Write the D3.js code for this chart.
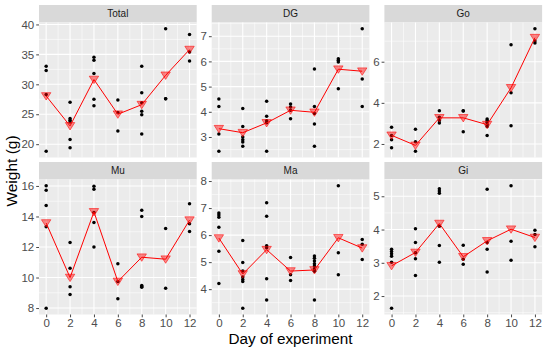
<!DOCTYPE html>
<html>
<head>
<meta charset="utf-8">
<script src="https://cdn.jsdelivr.net/npm/d3@7"></script>
<style>
  html, body { margin: 0; padding: 0; background: #fff; }
  svg text { font-family: "Liberation Sans", Arial, sans-serif; }
</style>
</head>
<body>
<div id="chart"></div>
<script>
/* ---------- data ---------- */
const days = [0, 2, 4, 6, 8, 10, 12];
const facets = ["Total", "DG", "Go", "Mu", "Ma", "Gi"];

// raw points per day, one inner array per day
const ptsTotal = [
  [33.0, 32.3, 28.3, 18.8],
  [27.0, 24.3, 24.0, 23.7, 20.8, 19.4],
  [34.5, 34.0, 31.8, 27.5, 26.4],
  [27.4, 25.3, 22.2],
  [33.0, 28.6, 26.9, 25.5, 24.9, 21.7],
  [39.3, 27.6, 27.6],
  [38.3, 35.4, 33.9]
];
const ptsDG = [
  [4.51, 4.21, 3.12, 2.43],
  [4.13, 3.42, 3.0, 2.89, 2.8, 2.63],
  [4.42, 3.82, 3.64, 3.57, 2.43],
  [4.31, 4.19, 4.06, 3.72],
  [5.7, 4.21, 3.93, 3.52, 2.63],
  [6.11, 6.05, 5.98, 4.91],
  [7.3, 5.3, 4.21]
];
const ptsGo = [
  [2.81, 2.41, 2.2, 1.82],
  [2.72, 2.11, 1.64],
  [3.61, 3.3, 3.14, 3.02],
  [3.61, 3.6, 2.6],
  [3.22, 3.14, 3.06, 2.94, 2.85, 2.41],
  [6.83, 4.49, 2.89],
  [7.61, 7.01, 6.91]
];
const ptsMu = [
  [16.02, 15.72, 14.72, 13.33, 7.98],
  [12.3, 10.6, 9.39, 8.89],
  [15.98, 15.78, 14.26, 13.61, 12.0],
  [10.91, 9.74, 8.61],
  [14.41, 14.0, 9.48, 9.42, 9.37],
  [13.22, 9.3],
  [14.83, 13.52, 13.02]
];
const ptsMa = [
  [6.82, 6.74, 6.66, 6.29, 5.4, 4.21],
  [5.8, 4.99, 4.67, 4.45, 4.36, 4.28, 3.29],
  [7.2, 6.7, 5.61, 5.53, 4.39, 3.6],
  [5.17, 4.53, 4.32],
  [5.23, 5.14, 5.04, 4.94, 4.86, 4.76, 4.66, 3.6],
  [7.83, 5.35, 4.53],
  [5.84, 5.66, 5.1]
];
const ptsGi = [
  [3.41, 3.34, 3.27, 3.2, 3.02, 1.63],
  [4.02, 3.61, 3.3, 3.12, 2.62],
  [5.23, 5.16, 5.09, 4.1, 3.52, 3.02],
  [3.53, 3.11, 2.96],
  [5.21, 3.61, 3.41, 2.72],
  [5.32, 3.65, 3.08],
  [3.98, 3.85, 3.48]
];

// mean per day (red triangles)
const meanTotal = [28.05, 23.05, 30.8, 25.0, 26.6, 31.5, 35.8];
const meanDG    = [3.33, 3.17, 3.56, 4.06, 3.98, 5.69, 5.61];
const meanGo    = [2.42, 1.93, 3.27, 3.27, 2.94, 4.73, 7.17];
const meanMu    = [13.57, 10.0, 14.3, 9.74, 11.33, 11.2, 13.76];
const meanMa    = [5.89, 4.56, 5.46, 4.67, 4.71, 5.9, 5.52];
const meanGi    = [2.91, 3.31, 4.18, 3.18, 3.66, 4.01, 3.76];

// y tick labels per facet
const ticksTotal = [20, 25, 30, 35, 40];
const ticksDG    = [3, 4, 5, 6, 7];
const ticksGo    = [2, 4, 6];
const ticksMu    = [8, 10, 12, 14, 16];
const ticksMa    = [4, 5, 6, 7, 8];
const ticksGi    = [2, 3, 4, 5];

const xTicks = [0, 2, 4, 6, 8, 10, 12];

const panels = [
  { name: facets[0], pts: ptsTotal, mean: meanTotal, ticks: ticksTotal },
  { name: facets[1], pts: ptsDG,    mean: meanDG,    ticks: ticksDG },
  { name: facets[2], pts: ptsGo,    mean: meanGo,    ticks: ticksGo },
  { name: facets[3], pts: ptsMu,    mean: meanMu,    ticks: ticksMu },
  { name: facets[4], pts: ptsMa,    mean: meanMa,    ticks: ticksMa },
  { name: facets[5], pts: ptsGi,    mean: meanGi,    ticks: ticksGi }
];

/* ---------- layout ---------- */
const W = 550, H = 350;
const left0 = 39, pw = 157.7, colGap = 15;
const top0 = 5, stripH = 17.5, ph = 135, rowGap = 4.5;
const tickFont = 11.5;

const svg = d3.select("#chart").append("svg")
  .attr("width", W).attr("height", H);

// x scale with ggplot-like 5% expansion
const xPad = (12 - 0) * 0.05;
const x = d3.scaleLinear().domain([0 - xPad, 12 + xPad]).range([0, pw]);

function minorsOf(ticks, dom) {
  const out = [];
  const step = ticks[1] - ticks[0];
  const ext = [ticks[0] - step].concat(ticks, [ticks[ticks.length - 1] + step]);
  for (let i = 0; i < ext.length - 1; i++) {
    const m = (ext[i] + ext[i + 1]) / 2;
    if (m >= dom[0] && m <= dom[1]) out.push(m);
  }
  return out;
}

panels.forEach((p, i) => {
  const col = i % 3, row = Math.floor(i / 3);
  const px = left0 + col * (pw + colGap);
  const sy = top0 + row * (stripH + ph + rowGap);
  const py = sy + stripH;

  const all = p.pts.flat();
  const [lo, hi] = d3.extent(all);
  const pad = (hi - lo) * 0.05;
  const dom = [lo - pad, hi + pad];
  const y = d3.scaleLinear().domain(dom).range([ph, 0]);

  // strip
  svg.append("rect").attr("x", px).attr("y", sy)
    .attr("width", pw).attr("height", stripH).attr("fill", "#D9D9D9");
  svg.append("text").attr("x", px + pw / 2).attr("y", sy + stripH / 2 + 3.6)
    .attr("text-anchor", "middle").attr("font-size", 10).attr("fill", "#1A1A1A")
    .text(p.name);

  const g = svg.append("g").attr("transform", `translate(${px},${py})`);
  g.append("rect").attr("width", pw).attr("height", ph).attr("fill", "#EBEBEB");

  // minor grid
  g.selectAll("line.xmin").data(minorsOf(xTicks, x.domain())).join("line")
    .attr("x1", d => x(d)).attr("x2", d => x(d)).attr("y1", 0).attr("y2", ph)
    .attr("stroke", "#fff").attr("stroke-width", 0.55);
  g.selectAll("line.ymin").data(minorsOf(p.ticks, dom)).join("line")
    .attr("y1", d => y(d)).attr("y2", d => y(d)).attr("x1", 0).attr("x2", pw)
    .attr("stroke", "#fff").attr("stroke-width", 0.55);
  // major grid
  g.selectAll("line.xmaj").data(xTicks).join("line")
    .attr("x1", d => x(d)).attr("x2", d => x(d)).attr("y1", 0).attr("y2", ph)
    .attr("stroke", "#fff").attr("stroke-width", 1.1);
  g.selectAll("line.ymaj").data(p.ticks).join("line")
    .attr("y1", d => y(d)).attr("y2", d => y(d)).attr("x1", 0).attr("x2", pw)
    .attr("stroke", "#fff").attr("stroke-width", 1.1);

  // y axis
  const ya = g.append("g")
    .call(d3.axisLeft(y).tickValues(p.ticks).tickFormat(d3.format("d"))
      .tickSize(2.8).tickPadding(2));
  ya.select(".domain").remove();
  ya.selectAll(".tick line").attr("stroke", "#333333").attr("stroke-width", 0.9);
  ya.selectAll(".tick text").attr("fill", "#4D4D4D").attr("font-size", tickFont)
    .attr("font-family", "Liberation Sans, Arial, sans-serif");

  // x axis only on bottom row
  if (row === 1) {
    const xa = g.append("g").attr("transform", `translate(0,${ph})`)
      .call(d3.axisBottom(x).tickValues(xTicks).tickFormat(d3.format("d"))
        .tickSize(2.8).tickPadding(1.5));
    xa.select(".domain").remove();
    xa.selectAll(".tick line").attr("stroke", "#333333").attr("stroke-width", 0.9);
    xa.selectAll(".tick text").attr("fill", "#4D4D4D").attr("font-size", tickFont)
      .attr("font-family", "Liberation Sans, Arial, sans-serif");
  }

  // points
  const flatPts = [];
  p.pts.forEach((arr, k) => arr.forEach(v => flatPts.push({ d: days[k], v })));
  g.selectAll("circle.pt").data(flatPts).join("circle")
    .attr("cx", d => x(d.d)).attr("cy", d => y(d.v)).attr("r", 1.75)
    .attr("fill", "#000");

  // mean line
  const means = p.mean.map((v, k) => ({ d: days[k], v }));
  g.append("path").datum(means)
    .attr("d", d3.line().x(d => x(d.d)).y(d => y(d.v)))
    .attr("fill", "none").attr("stroke", "#FF0000").attr("stroke-width", 1);

  // mean triangles (pointing down)
  const tw = 4.7, th = 7.4;
  g.selectAll("path.tri").data(means).join("path")
    .attr("d", d => {
      const cx = x(d.d), cy = y(d.v);
      return `M${cx - tw},${cy - th * 0.45}L${cx + tw},${cy - th * 0.45}L${cx},${cy + th * 0.55}Z`;
    })
    .attr("fill", "rgba(255,0,0,0.45)")
    .attr("stroke", "rgba(255,0,0,0.55)").attr("stroke-width", 1);
});

// axis titles
svg.append("text").attr("x", left0 + (3 * pw + 2 * colGap) / 2).attr("y", 344)
  .attr("text-anchor", "middle").attr("font-size", 15.3).attr("fill", "#000")
  .text("Day of experiment");
svg.append("text")
  .attr("transform", `translate(17,171) rotate(-90)`)
  .attr("text-anchor", "middle").attr("font-size", 15.5).attr("fill", "#000")
  .text("Weight (g)");
</script>
</body>
</html>
